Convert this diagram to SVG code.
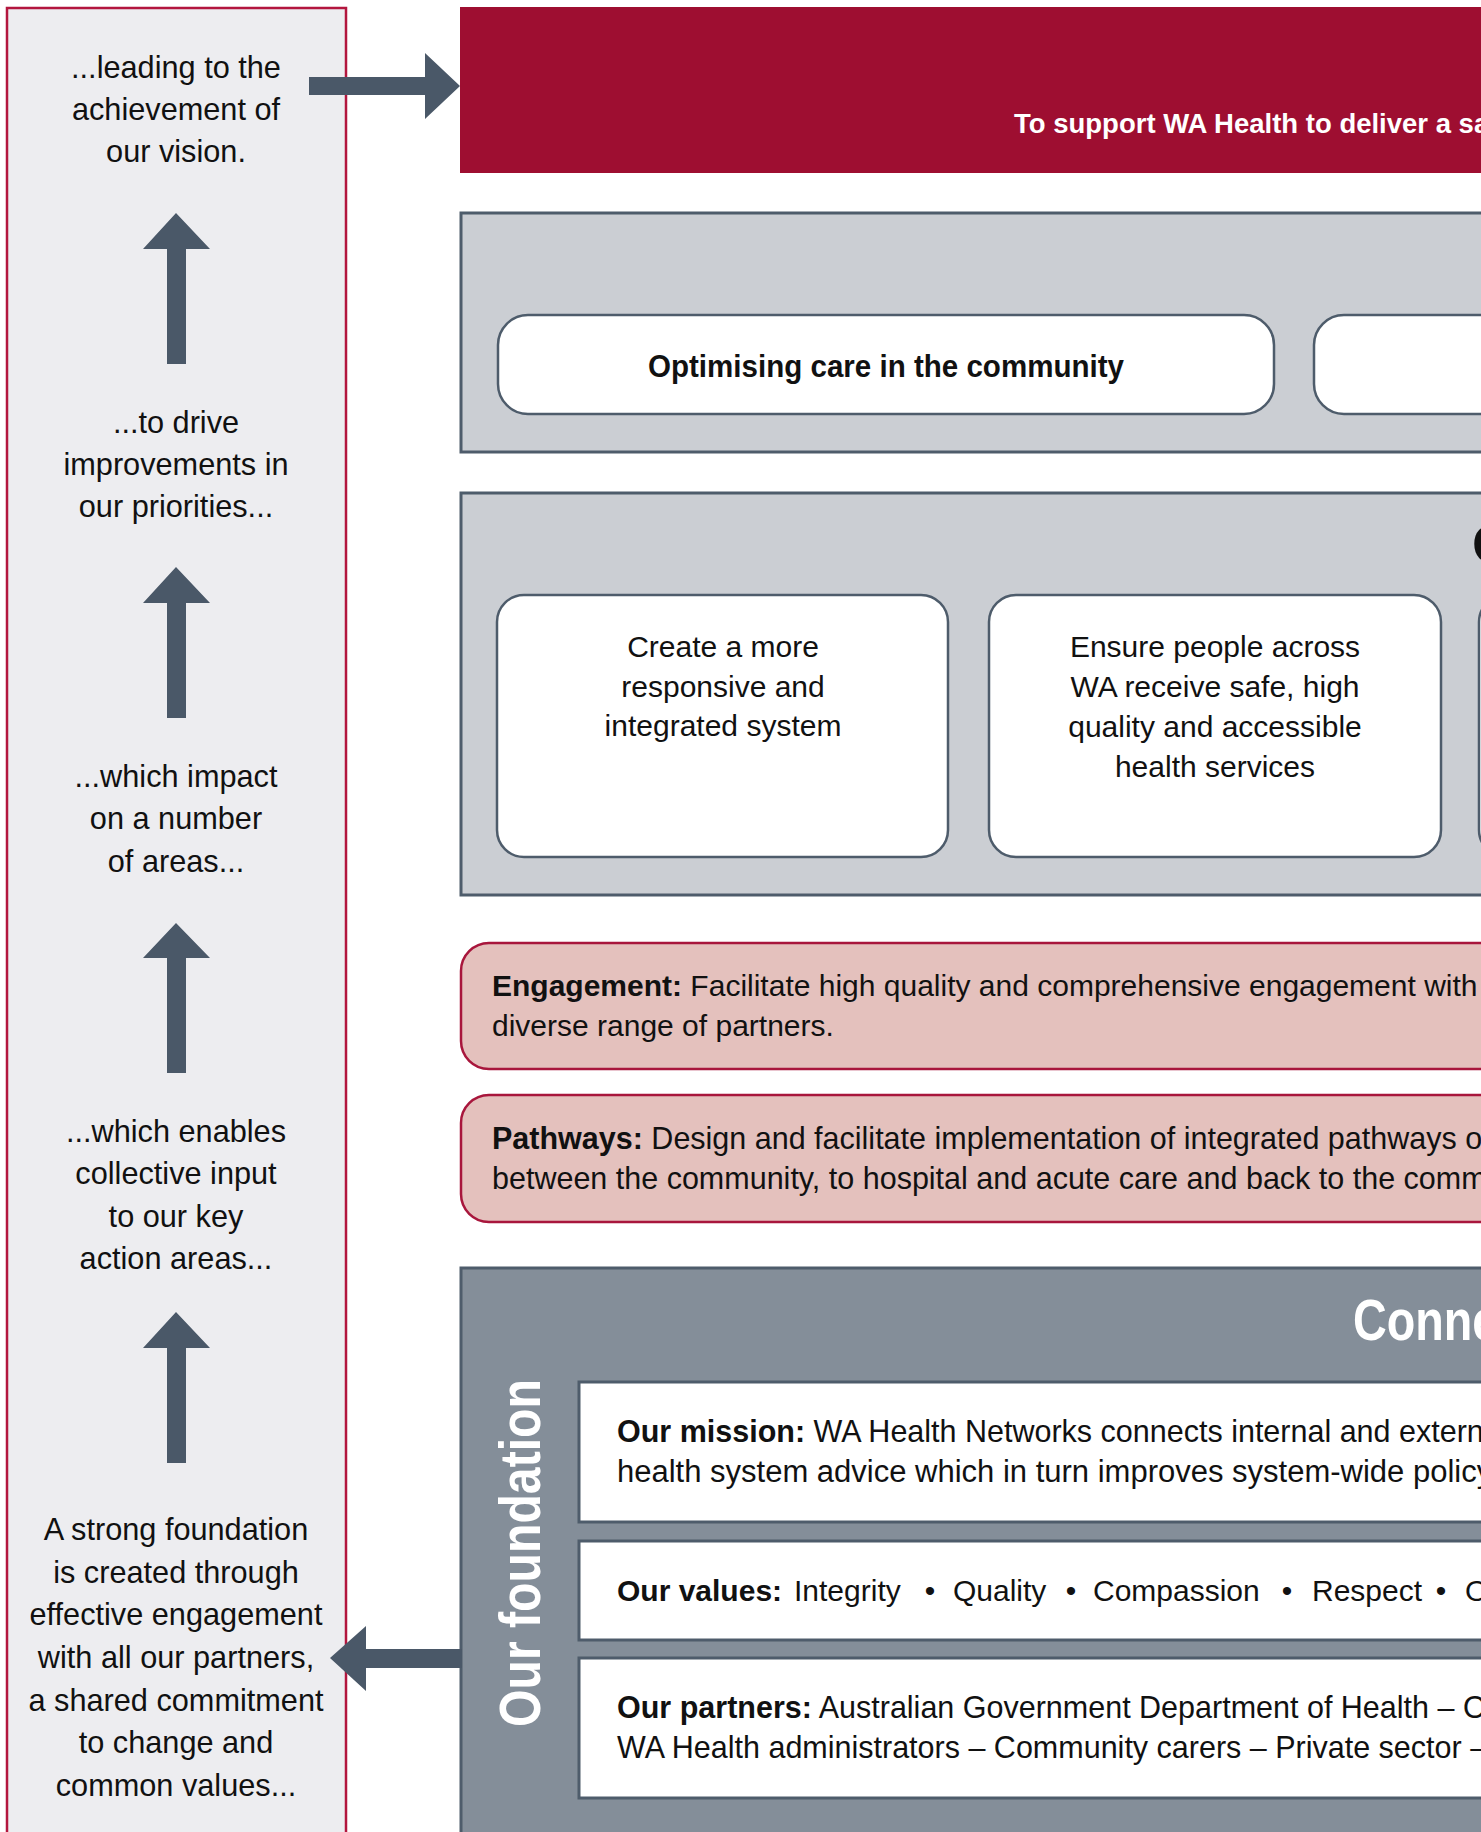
<svg xmlns="http://www.w3.org/2000/svg" width="1481" height="1832" viewBox="0 0 1481 1832">
<style>
  text { font-family: "Liberation Sans", Arial, sans-serif; fill: #111; }
  .lp { font-size: 30.7px; text-anchor: middle; }
  .body { font-size: 30px; }
  .wide { font-size: 30.5px; }
  .ctr { text-anchor: middle; }
  .b { font-weight: bold; }
  .w { fill: #ffffff; }
  .grey { fill: #CBCED3; stroke: #4E5C6B; stroke-width: 3; }
  .card { fill: #ffffff; stroke: #4E5C6B; stroke-width: 2.5; }
  .pink { fill: #E4C1BD; stroke: #A8163C; stroke-width: 2.5; }
  .found { fill: #848E99; stroke: #4E5C6B; stroke-width: 3; }
  .wbox { fill: #ffffff; stroke: #4E5C6B; stroke-width: 3; }
  .arr { fill: #4A5868; }
</style>

<g id="left-panel">
  <rect x="7" y="8" width="339" height="1840" fill="#EDEDF0" stroke="#B3163E" stroke-width="2.5"/>
  <text class="lp" x="176" y="78">...leading to the</text>
  <text class="lp" x="176" y="120">achievement of</text>
  <text class="lp" x="176" y="162">our vision.</text>
  <text class="lp" x="176" y="433">...to drive</text>
  <text class="lp" x="176" y="475">improvements in</text>
  <text class="lp" x="176" y="517">our priorities...</text>
  <text class="lp" x="176" y="787">...which impact</text>
  <text class="lp" x="176" y="829">on a number</text>
  <text class="lp" x="176" y="872">of areas...</text>
  <text class="lp" x="176" y="1142">...which enables</text>
  <text class="lp" x="176" y="1184">collective input</text>
  <text class="lp" x="176" y="1227">to our key</text>
  <text class="lp" x="176" y="1269">action areas...</text>
  <text class="lp" x="176" y="1540">A strong foundation</text>
  <text class="lp" x="176" y="1583">is created through</text>
  <text class="lp" x="176" y="1625">effective engagement</text>
  <text class="lp" x="176" y="1668">with all our partners,</text>
  <text class="lp" x="176" y="1711">a shared commitment</text>
  <text class="lp" x="176" y="1753">to change and</text>
  <text class="lp" x="176" y="1796">common values...</text>
</g>

<g id="vision">
  <rect x="460" y="7" width="1030" height="166" fill="#9E0E31"/>
  <text class="w b" x="1014" y="133" font-size="27.5">To support WA Health to deliver a sa</text>
</g>

<g id="priorities">
  <rect class="grey" x="461" y="213" width="1040" height="239"/>
  <rect class="card" x="498" y="315" width="776" height="99" rx="30"/>
  <text class="b ctr" x="886" y="377" font-size="32" textLength="476" lengthAdjust="spacingAndGlyphs">Optimising care in the community</text>
  <rect class="card" x="1314" y="315" width="300" height="99" rx="30"/>
</g>

<g id="outcomes">
  <rect class="grey" x="461" y="493" width="1040" height="402"/>
  <text class="b" x="1472" y="563" font-size="55">O</text>
  <rect class="card" x="497" y="595" width="451" height="262" rx="27"/>
  <text class="body ctr" x="723" y="657">Create a more</text>
  <text class="body ctr" x="723" y="697">responsive and</text>
  <text class="body ctr" x="723" y="736">integrated system</text>
  <rect class="card" x="989" y="595" width="452" height="262" rx="27"/>
  <text class="body ctr" x="1215" y="657">Ensure people across</text>
  <text class="body ctr" x="1215" y="697">WA receive safe, high</text>
  <text class="body ctr" x="1215" y="737">quality and accessible</text>
  <text class="body ctr" x="1215" y="777">health services</text>
  <rect class="card" x="1479" y="595" width="400" height="262" rx="27"/>
</g>

<g id="engagement">
  <rect class="pink" x="461" y="943" width="1100" height="126" rx="28"/>
  <text class="body" x="492" y="996"><tspan class="b">Engagement:</tspan> Facilitate high quality and comprehensive engagement with</text>
  <text class="body" x="492" y="1036">diverse range of partners.</text>
</g>

<g id="pathways">
  <rect class="pink" x="461" y="1095" width="1100" height="127" rx="28"/>
  <text class="wide" x="492" y="1149"><tspan class="b">Pathways:</tspan> Design and facilitate implementation of integrated pathways of</text>
  <text class="wide" x="492" y="1189">between the community, to hospital and acute care and back to the commu</text>
</g>

<g id="foundation">
  <rect class="found" x="461" y="1268" width="1100" height="700"/>
  <text class="w b" font-size="57" transform="translate(1353,1340) scale(0.82,1)">Conne</text>
  <text class="w b" font-size="58" transform="translate(540,1727) rotate(-90)" textLength="348" lengthAdjust="spacingAndGlyphs">Our foundation</text>
</g>

<g id="mission">
  <rect class="wbox" x="579" y="1382" width="1000" height="140"/>
  <text class="wide" x="617" y="1442"><tspan class="b">Our mission:</tspan> WA Health Networks connects internal and externa</text>
  <text x="617" y="1482" style="font-size:31px">health system advice which in turn improves system-wide policy</text>
</g>

<g id="values">
  <rect class="wbox" x="579" y="1541" width="1000" height="99"/>
  <text class="body b" x="617" y="1601">Our values:</text>
  <text class="body" x="794" y="1601">Integrity</text>
  <text class="body ctr" x="930" y="1601">•</text>
  <text class="body" x="953" y="1601">Quality</text>
  <text class="body ctr" x="1071" y="1601">•</text>
  <text class="body" x="1093" y="1601">Compassion</text>
  <text class="body ctr" x="1287" y="1601">•</text>
  <text class="body" x="1312" y="1601">Respect</text>
  <text class="body ctr" x="1441" y="1601">•</text>
  <text class="body" x="1465" y="1601">O</text>
</g>

<g id="partners">
  <rect class="wbox" x="579" y="1658" width="1000" height="140"/>
  <text class="wide" x="617" y="1718"><tspan class="b">Our partners:</tspan> Australian Government Department of Health – O</text>
  <text class="wide" x="617" y="1758">WA Health administrators – Community carers – Private sector –</text>
</g>

<g id="connectors">
  <path class="arr" d="M309,77 H425 V53 L460,86 L425,119 V95 H309 Z"/>
  <path class="arr" d="M176,213 L210,249 H186 V364 H167 V249 H143 Z"/>
  <path class="arr" d="M176,567 L210,603 H186 V718 H167 V603 H143 Z"/>
  <path class="arr" d="M176,923 L210,958 H186 V1073 H167 V958 H143 Z"/>
  <path class="arr" d="M176,1312 L210,1348 H186 V1463 H167 V1348 H143 Z"/>
  <path class="arr" d="M330,1658 L366,1626 V1649 H462 V1668 H366 V1691 Z"/>
</g>
</svg>
